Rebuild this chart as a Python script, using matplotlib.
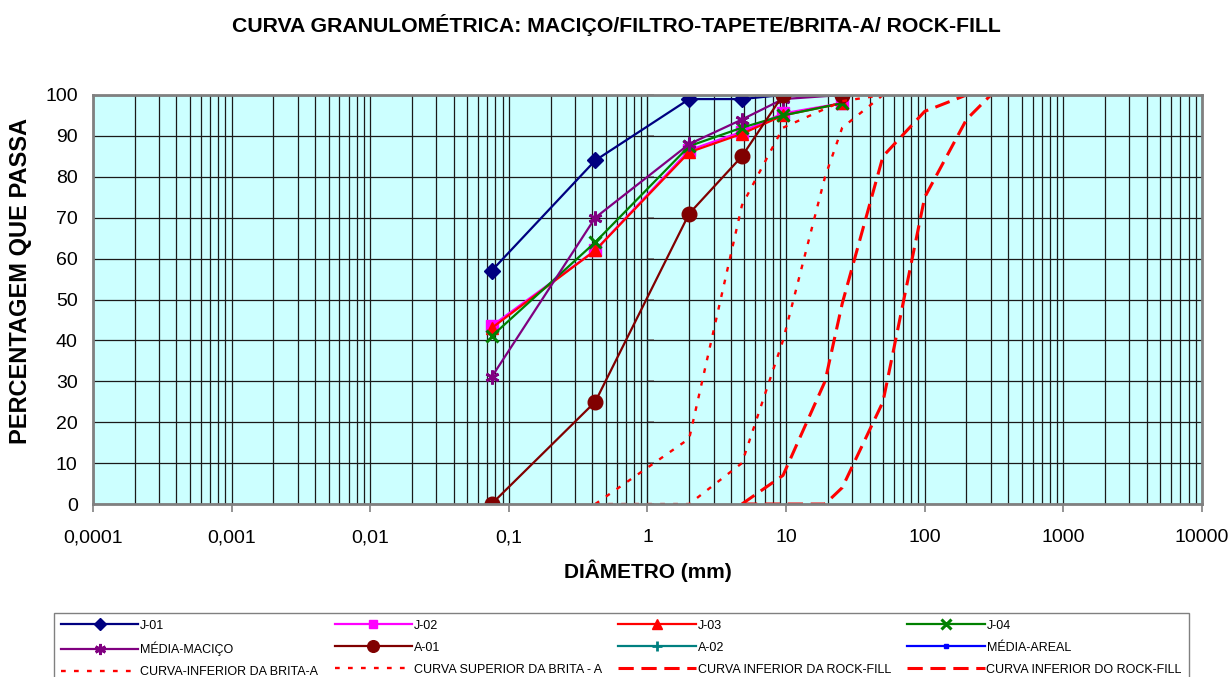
import matplotlib
matplotlib.use("Agg")
import matplotlib.pyplot as plt
from matplotlib.ticker import FixedLocator, FixedFormatter, LogLocator, NullFormatter

plt.rcParams['font.family'] = ['Liberation Sans', 'DejaVu Sans']

# sieve openings (mm)
sieve = [0.075, 0.42, 2.0, 4.8, 9.5, 25.4]

j01 = [57, 84, 99, 99, 100, 100]
j02 = [43.5, 62, 86.5, 91, 95.5, 98]
j03 = [43, 62, 86, 90.5, 95, 98]
j04 = [41, 64, 87.5, 92, 95, 98]
media_macico = [31, 70, 88, 94, 99, 100]
a01 = [0, 25, 71, 85, 100, 100]
a02 = []
media_areal = []

# limit curves
brita_inf_x = [0.42, 2.0, 4.8, 9.5, 25.4, 50]
brita_inf_y = [0, 16, 73, 92, 98.5, 100]
brita_sup_x = [0.42, 2.0, 4.8, 9.5, 19.1, 25.4, 50]
brita_sup_y = [0, 0, 10, 40, 80, 92, 100]
rock1_x = [4.8, 9.5, 19.1, 25.4, 50, 100, 200]
rock1_y = [0, 7, 30, 49, 85, 96, 100]
rock2_x = [4.8, 9.5, 19.1, 25.4, 50, 100, 200, 300]
rock2_y = [0, 0, 0, 4, 25, 75, 94, 100]

xticks = [1e-4, 1e-3, 1e-2, 1e-1, 1, 10, 100, 1000, 10000]
xticklabels = ["0,0001", "0,001", "0,01", "0,1", "1", "10", "100", "1000", "10000"]

fig = plt.figure(figsize=(12.32, 6.77), dpi=100)
ax = fig.add_axes([0.0755, 0.2555, 0.9001, 0.6042])
ax.set_facecolor('#CCFFFF')

# sample series
handles = {}
handles['J-01'], = ax.plot(sieve, j01, color='#000080', lw=1.6, marker='D', ms=8, label='J-01')
handles['J-02'], = ax.plot(sieve, j02, color='#FF00FF', lw=1.6, marker='s', ms=8, label='J-02')
handles['J-03'], = ax.plot(sieve, j03, color='#FF0000', lw=1.6, marker='^', ms=9, label='J-03')
handles['J-04'], = ax.plot(sieve, j04, color='#008000', lw=1.6, marker='x', ms=9, mew=2.2, label='J-04')
handles['MÉDIA-MACIÇO'], = ax.plot(sieve, media_macico, color='#800080', lw=1.6, marker=(6, 2, 0),
                                   ms=10, mew=2, label='MÉDIA-MACIÇO')
handles['A-01'], = ax.plot(sieve, a01, color='#800000', lw=1.6, marker='o', ms=10.5, label='A-01')
handles['A-02'], = ax.plot(sieve[:len(a02)], a02, color='#008080', lw=1.6, marker='+', ms=9, mew=2,
                           label='A-02')
handles['MÉDIA-AREAL'], = ax.plot(sieve[:len(media_areal)], media_areal, color='#0000FF', lw=1.6,
                                  marker='s', ms=3, label='MÉDIA-AREAL')

# limit curves
dotted = (0, (2, 3.5))
dashed = (0, (5, 2.5))
handles['bi'], = ax.plot(brita_inf_x, brita_inf_y, color='#FF0000', lw=1.7, ls=dotted,
                         label='CURVA-INFERIOR DA BRITA-A')
handles['bs'], = ax.plot(brita_sup_x, brita_sup_y, color='#FF0000', lw=1.7, ls=dotted,
                         label='CURVA SUPERIOR DA BRITA - A')
handles['r1'], = ax.plot(rock1_x, rock1_y, color='#FF0000', lw=2.2, ls=dashed,
                         label='CURVA INFERIOR DA ROCK-FILL')
handles['r2'], = ax.plot(rock2_x, rock2_y, color='#FF0000', lw=2.2, ls=dashed,
                         label='CURVA INFERIOR DO ROCK-FILL')

ax.set_xscale('log')
ax.set_xlim(1e-4, 1e4)
ax.set_ylim(0, 100)
ax.xaxis.set_major_locator(FixedLocator(xticks))
ax.xaxis.set_major_formatter(FixedFormatter(xticklabels))
ax.xaxis.set_minor_locator(LogLocator(base=10, subs=range(2, 10), numticks=100))
ax.xaxis.set_minor_formatter(NullFormatter())
ax.set_yticks(range(0, 101, 10))

ax.grid(True, which='both', axis='x', color='#1a1a1a', lw=0.9)
ax.grid(True, which='major', axis='y', color='#1a1a1a', lw=0.9)
ax.set_axisbelow(True)

ax.tick_params(axis='x', which='major', length=6, width=1.2, color='#808080', pad=12, labelsize=14)
ax.tick_params(axis='x', which='minor', length=0)
ax.tick_params(axis='y', length=0, pad=11, labelsize=14)
for sp in ax.spines.values():
    sp.set_color('#808080')
    sp.set_linewidth(2)

# value axis crossing at x = 1 (Excel style)
sec = ax.secondary_yaxis(0.5)
sec.set_yticks(range(0, 101, 10))
sec.yaxis.set_major_formatter(NullFormatter())
sec.tick_params(length=5, width=1.2, color='#808080')
sec.spines['left'].set_color('#808080')
sec.spines['left'].set_linewidth(1.5)

ax.set_xlabel('DIÂMETRO (mm)', fontsize=15, fontweight='bold', labelpad=10)
ax.set_ylabel('PERCENTAGEM QUE PASSA', fontsize=17, fontweight='bold', va='center')
ax.yaxis.set_label_coords(-0.0658, 0.545)
fig.suptitle('CURVA GRANULOMÉTRICA: MACIÇO/FILTRO-TAPETE/BRITA-A/ ROCK-FILL',
             fontsize=15.3, fontweight='bold', y=0.963, va='center')

# legend laid out row-wise like the original (4 columns, 3 rows)
order = ['J-01', 'MÉDIA-MACIÇO', 'bi', 'J-02', 'A-01', 'bs',
         'J-03', 'A-02', 'r1', 'J-04', 'MÉDIA-AREAL', 'r2']
leg = fig.legend([handles[k] for k in order], [handles[k].get_label() for k in order],
                 loc='upper left', bbox_to_anchor=(54 / 1232, 1 - 612.7 / 677),
                 ncol=4, fontsize=9, numpoints=1, handlelength=6.2, handletextpad=0.15,
                 columnspacing=1.3, labelspacing=0.8, borderaxespad=0, fancybox=False,
                 framealpha=1, edgecolor='#808080', borderpad=0.55)
leg.get_frame().set_linewidth(1)
for h in leg.legend_handles:
    if h.get_marker() not in (None, 'None', ''):
        h.set_markersize(h.get_markersize() * 0.8)

fig.savefig('out.png', dpi=100)
